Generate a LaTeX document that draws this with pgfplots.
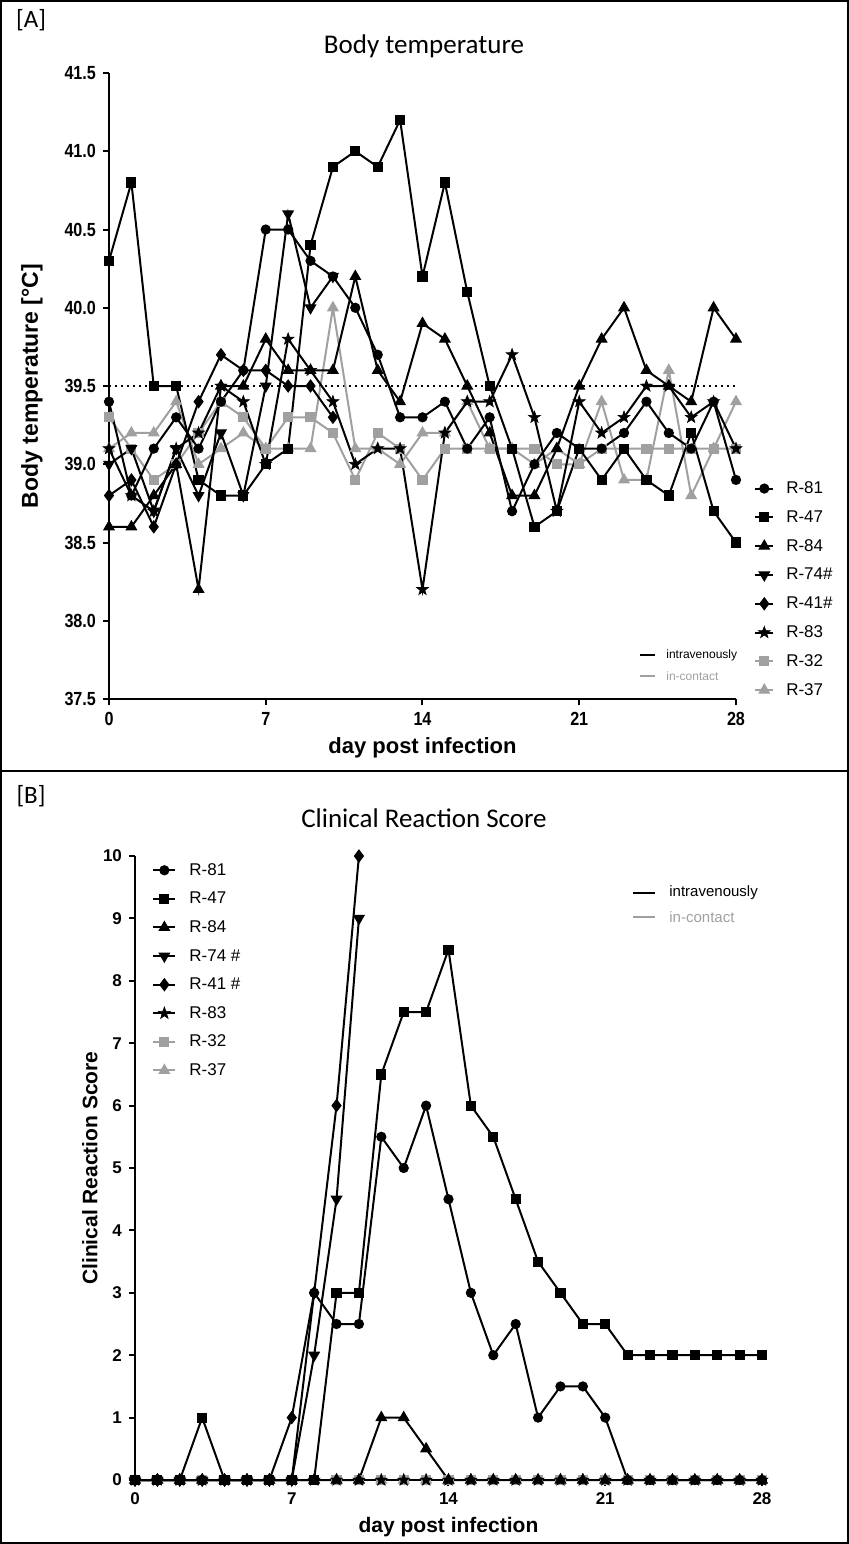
\documentclass[border=0pt]{standalone}
\usepackage{fontspec}
\setmainfont{Liberation Sans}
\newfontfamily\carlito{Carlito}
\newfontfamily\narrowfont[FakeStretch=0.85]{Liberation Sans}
\usepackage{pgfplots}
\pgfplotsset{compat=1.18}
\usetikzlibrary{plotmarks}
\definecolor{mygray}{RGB}{160,160,160}

\pgfdeclareplotmark{fstar}{%
 \pgfpathmoveto{\pgfpointpolar{90}{1.25\pgfplotmarksize}}%
 \pgfpathlineto{\pgfpointpolar{126}{0.5\pgfplotmarksize}}%
 \pgfpathlineto{\pgfpointpolar{162}{1.25\pgfplotmarksize}}%
 \pgfpathlineto{\pgfpointpolar{198}{0.5\pgfplotmarksize}}%
 \pgfpathlineto{\pgfpointpolar{234}{1.25\pgfplotmarksize}}%
 \pgfpathlineto{\pgfpointpolar{270}{0.5\pgfplotmarksize}}%
 \pgfpathlineto{\pgfpointpolar{306}{1.25\pgfplotmarksize}}%
 \pgfpathlineto{\pgfpointpolar{342}{0.5\pgfplotmarksize}}%
 \pgfpathlineto{\pgfpointpolar{18}{1.25\pgfplotmarksize}}%
 \pgfpathlineto{\pgfpointpolar{54}{0.5\pgfplotmarksize}}%
 \pgfpathclose\pgfusepathqfillstroke}

\pgfplotsset{
 s81/.style={black, line width=1pt, mark=*, mark size=2.3pt, mark options={solid, line width=0.5pt}},
 s47/.style={black, line width=1pt, mark=square*, mark size=2.3pt, mark options={solid, line width=0.5pt}},
 s84/.style={black, line width=1pt, mark=triangle*, mark size=3pt, mark options={solid, line width=0.5pt}},
 s74/.style={black, line width=1pt, mark=triangle*, mark size=3pt, mark options={solid, line width=0.5pt, rotate=180}},
 s41/.style={black, line width=1pt, mark=diamond*, mark size=3pt, mark options={solid, line width=0.5pt}},
 s83/.style={black, line width=1pt, mark=fstar, mark size=2.5pt, mark options={solid, line width=0.3pt}},
 s32/.style={mygray, line width=1pt, mark=square*, mark size=2.3pt, mark options={solid, line width=0.5pt}},
 s37/.style={mygray, line width=1pt, mark=triangle*, mark size=3pt, mark options={solid, line width=0.5pt}},
 gpstyle/.style={
   scale only axis, clip=false,
   axis x line*=bottom, axis y line*=left,
   axis line style={line width=1pt, -},
   tick align=outside, major tick length=3pt,
   tick style={line width=1pt, black},
   /pgf/number format/assume math mode=true,
   legend cell align=left,
 },
}

\begin{document}
\begin{tikzpicture}
\useasboundingbox (0,0) rectangle (424.5pt,-772pt);
\draw[line width=1pt] (0.5pt,-0.5pt) rectangle (424pt,-385.5pt);
\draw[line width=1pt] (0.5pt,-385.5pt) rectangle (424pt,-771.5pt);

\node[font=\carlito\fontsize{12.5}{14}\selectfont] at (15.5pt,-10pt) {[A]};
\node[font=\carlito\fontsize{13.5}{15}\selectfont] at (212pt,-23pt) {Body temperature};
\node[font=\carlito\fontsize{12.5}{14}\selectfont] at (15.5pt,-398pt) {[B]};
\node[font=\carlito\fontsize{13.5}{15}\selectfont] at (212pt,-409pt) {Clinical Reaction Score};

% ---------------- Panel A ----------------
\begin{axis}[gpstyle,
 at={(54.5pt,-349.5pt)}, anchor=south west,
 width=313.5pt, height=313pt,
 xmin=0, xmax=28, ymin=37.5, ymax=41.5,
 xtick={0,7,14,21,28}, ytick={37.5,38,38.5,39,39.5,40,40.5,41,41.5},
 yticklabel style={/pgf/number format/fixed, /pgf/number format/fixed zerofill, /pgf/number format/precision=1},
 ticklabel style={font=\narrowfont\bfseries\fontsize{9.5}{11}\selectfont},
 xlabel={day post infection}, ylabel={Body temperature [°C]},
 xlabel style={font=\bfseries\fontsize{11}{13}\selectfont, at={(axis description cs:0.5,-0.078)}, anchor=center},
 ylabel style={font=\bfseries\fontsize{11.5}{13}\selectfont, at={(axis description cs:-0.123,0.5)}, anchor=center},
 legend style={at={(axis description cs:1.019,0.356)}, anchor=north west, draw=none, fill=none,
   font=\fontsize{8.5}{10}\selectfont, row sep=6.4pt,
   nodes={inner sep=0pt, text height=6.5pt, text depth=1.5pt},
   /tikz/every odd column/.append style={column sep=6pt}},
 legend image code/.code={\draw[mark repeat=2,mark phase=2,#1] plot coordinates {(0pt,0pt) (4.5pt,0pt) (9pt,0pt)};},
]
\addplot[black, line width=0.7pt, dash pattern=on 0.8pt off 2.2pt, forget plot] coordinates {(0,39.5) (28,39.5)};
% in-contact (gray) first
\addplot[s32, forget plot] coordinates {(0,39.3) (1,39.1) (2,38.9) (3,39.0) (4,39.2) (5,39.4) (6,39.3) (7,39.1) (8,39.3) (9,39.3) (10,39.2) (11,38.9) (12,39.2) (13,39.1) (14,38.9) (15,39.1) (16,39.1) (17,39.1) (18,39.1) (19,39.1) (20,39.0) (21,39.0) (22,39.1) (23,39.1) (24,39.1) (25,39.1) (26,39.1) (27,39.1) (28,39.1)};
\addplot[s37, forget plot] coordinates {(0,39.1) (1,39.2) (2,39.2) (3,39.4) (4,39.0) (5,39.1) (6,39.2) (7,39.1) (8,39.1) (9,39.1) (10,40.0) (11,39.1) (12,39.1) (13,39.0) (14,39.2) (15,39.2) (16,39.4) (17,39.1) (18,39.1) (19,39.0) (20,39.1) (21,39.0) (22,39.4) (23,38.9) (24,38.9) (25,39.6) (26,38.8) (27,39.1) (28,39.4)};
% intravenously (black)
\addplot[s81] coordinates {(0,39.4) (1,38.8) (2,39.1) (3,39.3) (4,39.1) (5,39.4) (6,39.6) (7,40.5) (8,40.5) (9,40.3) (10,40.2) (11,40.0) (12,39.7) (13,39.3) (14,39.3) (15,39.4) (16,39.1) (17,39.3) (18,38.7) (19,39.0) (20,39.2) (21,39.1) (22,39.1) (23,39.2) (24,39.4) (25,39.2) (26,39.1) (27,39.4) (28,38.9)};
\addlegendentry{R-81}
\addplot[s47] coordinates {(0,40.3) (1,40.8) (2,39.5) (3,39.5) (4,38.9) (5,38.8) (6,38.8) (7,39.0) (8,39.1) (9,40.4) (10,40.9) (11,41.0) (12,40.9) (13,41.2) (14,40.2) (15,40.8) (16,40.1) (17,39.5) (18,39.1) (19,38.6) (20,38.7) (21,39.1) (22,38.9) (23,39.1) (24,38.9) (25,38.8) (26,39.2) (27,38.7) (28,38.5)};
\addlegendentry{R-47}
\addplot[s84] coordinates {(0,38.6) (1,38.6) (2,38.8) (3,39.0) (4,38.2) (5,39.5) (6,39.5) (7,39.8) (8,39.6) (9,39.6) (10,39.6) (11,40.2) (12,39.6) (13,39.4) (14,39.9) (15,39.8) (16,39.5) (17,39.2) (18,38.8) (19,38.8) (20,39.1) (21,39.5) (22,39.8) (23,40.0) (24,39.6) (25,39.5) (26,39.4) (27,40.0) (28,39.8)};
\addlegendentry{R-84}
\addplot[s74] coordinates {(0,39.0) (1,39.1) (2,38.7) (3,39.1) (4,38.8) (5,39.2) (6,38.8) (7,39.5) (8,40.6) (9,40.0) (10,40.2)};
\addlegendentry{R-74\#}
\addplot[s41] coordinates {(0,38.8) (1,38.9) (2,38.6) (3,39.0) (4,39.4) (5,39.7) (6,39.6) (7,39.6) (8,39.5) (9,39.5) (10,39.3)};
\addlegendentry{R-41\#}
\addplot[s83] coordinates {(0,39.1) (1,38.8) (2,38.7) (3,39.1) (4,39.2) (5,39.5) (6,39.4) (7,39.0) (8,39.8) (9,39.6) (10,39.4) (11,39.0) (12,39.1) (13,39.1) (14,38.2) (15,39.2) (16,39.4) (17,39.4) (18,39.7) (19,39.3) (20,38.7) (21,39.4) (22,39.2) (23,39.3) (24,39.5) (25,39.5) (26,39.3) (27,39.4) (28,39.1)};
\addlegendentry{R-83}
\addlegendimage{s32}\addlegendentry{R-32}
\addlegendimage{s37}\addlegendentry{R-37}
\end{axis}

% ---------------- Panel B ----------------
\begin{axis}[gpstyle,
 at={(67.5pt,-740pt)}, anchor=south west,
 width=313.5pt, height=312pt,
 xmin=0, xmax=28, ymin=0, ymax=10,
 xtick={0,7,14,21,28}, ytick={0,1,...,10},
 ticklabel style={font=\bfseries\fontsize{8.5}{10}\selectfont},
 xlabel={day post infection}, ylabel={Clinical Reaction Score},
 xlabel style={font=\bfseries\fontsize{10.5}{12}\selectfont, at={(axis description cs:0.5,-0.075)}, anchor=center},
 ylabel style={font=\bfseries\fontsize{10.5}{12}\selectfont, at={(axis description cs:-0.072,0.5)}, anchor=center},
 legend style={at={(axis description cs:0.0175,0.997)}, anchor=north west, draw=none, fill=none,
   font=\fontsize{8.5}{10}\selectfont, row sep=6.3pt,
   nodes={inner sep=0pt, text height=6.5pt, text depth=1.5pt},
   /tikz/every odd column/.append style={column sep=6.5pt}},
 legend image code/.code={\draw[mark repeat=2,mark phase=2,#1] plot coordinates {(0pt,0pt) (5.5pt,0pt) (11pt,0pt)};},
]
\addplot[s32, forget plot] coordinates {(0,0) (1,0) (2,0) (3,0) (4,0) (5,0) (6,0) (7,0) (8,0) (9,0) (10,0) (11,0) (12,0) (13,0) (14,0) (15,0) (16,0) (17,0) (18,0) (19,0) (20,0) (21,0) (22,0) (23,0) (24,0) (25,0) (26,0) (27,0) (28,0)};
\addplot[s37, forget plot] coordinates {(0,0) (1,0) (2,0) (3,0) (4,0) (5,0) (6,0) (7,0) (8,0) (9,0) (10,0) (11,0) (12,0) (13,0) (14,0) (15,0) (16,0) (17,0) (18,0) (19,0) (20,0) (21,0) (22,0) (23,0) (24,0) (25,0) (26,0) (27,0) (28,0)};
\addplot[s81] coordinates {(0,0) (1,0) (2,0) (3,0) (4,0) (5,0) (6,0) (7,0) (8,3) (9,2.5) (10,2.5) (11,5.5) (12,5) (13,6) (14,4.5) (15,3) (16,2) (17,2.5) (18,1) (19,1.5) (20,1.5) (21,1) (22,0) (23,0) (24,0) (25,0) (26,0) (27,0) (28,0)};
\addlegendentry{R-81}
\addplot[s47] coordinates {(0,0) (1,0) (2,0) (3,1) (4,0) (5,0) (6,0) (7,0) (8,0) (9,3) (10,3) (11,6.5) (12,7.5) (13,7.5) (14,8.5) (15,6) (16,5.5) (17,4.5) (18,3.5) (19,3) (20,2.5) (21,2.5) (22,2) (23,2) (24,2) (25,2) (26,2) (27,2) (28,2)};
\addlegendentry{R-47}
\addplot[s84] coordinates {(0,0) (1,0) (2,0) (3,0) (4,0) (5,0) (6,0) (7,0) (8,0) (9,0) (10,0) (11,1) (12,1) (13,0.5) (14,0) (15,0) (16,0) (17,0) (18,0) (19,0) (20,0) (21,0) (22,0) (23,0) (24,0) (25,0) (26,0) (27,0) (28,0)};
\addlegendentry{R-84}
\addplot[s74] coordinates {(0,0) (1,0) (2,0) (3,0) (4,0) (5,0) (6,0) (7,0) (8,2) (9,4.5) (10,9)};
\addlegendentry{R-74 \#}
\addplot[s41] coordinates {(0,0) (1,0) (2,0) (3,0) (4,0) (5,0) (6,0) (7,1) (8,3) (9,6) (10,10)};
\addlegendentry{R-41 \#}
\addplot[s83] coordinates {(0,0) (1,0) (2,0) (3,0) (4,0) (5,0) (6,0) (7,0) (8,0) (9,0) (10,0) (11,0) (12,0) (13,0) (14,0) (15,0) (16,0) (17,0) (18,0) (19,0) (20,0) (21,0) (22,0) (23,0) (24,0) (25,0) (26,0) (27,0) (28,0)};
\addlegendentry{R-83}
\addlegendimage{s32}\addlegendentry{R-32}
\addlegendimage{s37}\addlegendentry{R-37}
\end{axis}

% group legends (intravenously / in-contact)
\draw[black, line width=1.2pt] (320pt,-327.5pt) -- (327.5pt,-327.5pt);
\node[anchor=west, inner sep=0pt, font=\fontsize{6}{7}\selectfont] at (333pt,-327.5pt) {intravenously};
\draw[mygray, line width=1.2pt] (320pt,-338pt) -- (327.5pt,-338pt);
\node[anchor=west, inner sep=0pt, text=mygray, font=\fontsize{6}{7}\selectfont] at (333pt,-338pt) {in-contact};

\draw[black, line width=1pt] (316.5pt,-446.5pt) -- (327.5pt,-446.5pt);
\node[anchor=west, inner sep=0pt, font=\fontsize{7.5}{9}\selectfont] at (334.5pt,-446.5pt) {intravenously};
\draw[mygray, line width=1pt] (316.5pt,-458.5pt) -- (327.5pt,-458.5pt);
\node[anchor=west, inner sep=0pt, text=mygray, font=\fontsize{7.5}{9}\selectfont] at (334.5pt,-458.5pt) {in-contact};
\end{tikzpicture}
\end{document}
